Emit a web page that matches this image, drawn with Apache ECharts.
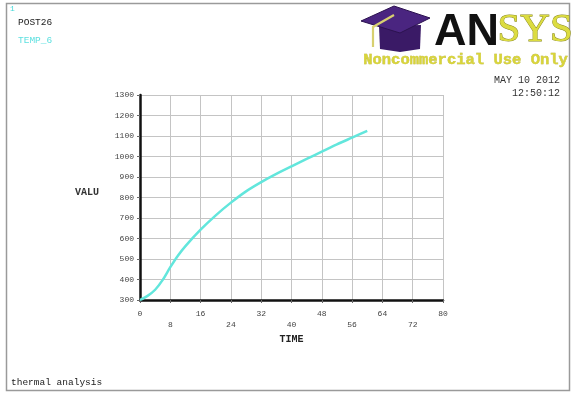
<!DOCTYPE html>
<html>
<head>
<meta charset="utf-8">
<script src="https://cdn.jsdelivr.net/npm/echarts@6/dist/echarts.min.js"></script>
<style>
  html, body { margin: 0; padding: 0; background: #fff; }
  #chart { width: 572px; height: 394px; }
</style>
</head>
<body>
<div id="chart"></div>
<script>
// POST26 time-history: TEMP_6 vs TIME
const timeValues = [0, 2, 4, 6, 8, 10, 12, 16, 20, 24, 28, 32, 36, 40, 44, 48, 52, 56, 60];
const tempValues = [300, 320, 350, 398, 460, 516, 563, 643, 713, 775, 830, 875, 915, 952, 988, 1024, 1059, 1092, 1125];
const xTicks = { min: 0, max: 80, step: 8 };
const yTicks = { min: 300, max: 1300, step: 100 };

const MONO = '"Liberation Mono", "DejaVu Sans Mono", monospace';
const chart = echarts.init(document.getElementById('chart'), null, { renderer: 'canvas' });

const seriesData = timeValues.map((t, i) => [t, tempValues[i]]);

chart.setOption({
  animation: false,
  backgroundColor: '#ffffff',
  grid: { left: 140, right: 129, top: 95, bottom: 94, containLabel: false },
  xAxis: {
    type: 'value',
    min: xTicks.min, max: xTicks.max, interval: xTicks.step,
    name: 'TIME', nameLocation: 'middle', nameGap: 30,
    nameTextStyle: { fontFamily: MONO, fontSize: 10, color: '#222', fontWeight: 'bold' },
    axisLine: { show: true, onZero: false, lineStyle: { color: '#111', width: 2.5 } },
    axisTick: { show: true, length: 3, inside: false, lineStyle: { color: '#666', width: 1 } },
    axisLabel: {
      fontFamily: MONO, fontSize: 8, color: '#444', margin: 8, lineHeight: 11,
      formatter: v => (v % 16 === 0 ? String(v) : '\n' + v)
    },
    splitLine: { show: true, lineStyle: { color: '#c4c4c4', width: 1 } }
  },
  yAxis: {
    type: 'value',
    min: yTicks.min, max: yTicks.max, interval: yTicks.step,
    axisLine: { show: true, onZero: false, lineStyle: { color: '#111', width: 2.5 } },
    axisTick: { show: true, length: 3, lineStyle: { color: '#666', width: 1 } },
    axisLabel: { fontFamily: MONO, fontSize: 8, color: '#444', margin: 6, formatter: v => String(v) },
    splitLine: { show: true, lineStyle: { color: '#c4c4c4', width: 1 } }
  },
  series: [{
    type: 'line',
    data: seriesData,
    smooth: 0.3,
    showSymbol: false,
    lineStyle: { color: '#62e6dc', width: 2.5 },
    z: 5
  }],
  graphic: [
    // outer frame
    { type: 'rect', shape: { x: 6.5, y: 3.5, width: 563, height: 387 },
      style: { fill: 'none', stroke: '#9a9a9a', lineWidth: 1.5 }, silent: true },
    { type: 'text', left: 10, top: 5,
      style: { text: '1', fontFamily: MONO, fontSize: 8, fill: '#40d8d8' } },
    { type: 'text', left: 18, top: 17,
      style: { text: 'POST26', fontFamily: MONO, fontSize: 9.5, fill: '#222' } },
    { type: 'text', left: 18, top: 35,
      style: { text: 'TEMP_6', fontFamily: MONO, fontSize: 9.5, fill: '#5ee0e0' } },
    // logo: mortarboard
    { type: 'polygon', shape: { points: [[379, 26], [421, 25], [420, 49], [400, 52], [380, 49]] },
      style: { fill: '#3a1a66' } },
    { type: 'polygon', shape: { points: [[361, 21], [394, 6], [430, 18], [400, 33]] },
      style: { fill: '#4a2580', stroke: '#2c1250', lineWidth: 1 } },
    { type: 'polyline', shape: { points: [[394, 15], [373, 27], [373, 47]] },
      style: { stroke: '#d8d070', lineWidth: 2.2, fill: 'none' } },
    // logo: lettering
    { type: 'text', left: 434, top: 10,
      style: { text: 'AN', fontFamily: '"Liberation Sans", Arial, sans-serif', fontWeight: 'bold',
               fontSize: 45, fill: '#111' } },
    { type: 'text', left: 497, top: 9,
      style: { text: 'SYS', fontFamily: '"Liberation Serif", serif', fontSize: 41,
               fill: '#dcdc40', stroke: '#8c8c22', lineWidth: 1 } },
    { type: 'text', left: 363, top: 52,
      style: { text: 'Noncommercial Use Only', fontFamily: MONO, fontWeight: 'bold',
               fontSize: 15.5, fill: '#d8d43a', stroke: '#b0aa20', lineWidth: 0.4 } },
    { type: 'text', right: 12, top: 75,
      style: { text: 'MAY 10 2012', fontFamily: MONO, fontSize: 10, fill: '#333', align: 'right' } },
    { type: 'text', right: 12, top: 88,
      style: { text: '12:50:12', fontFamily: MONO, fontSize: 10, fill: '#333', align: 'right' } },
    { type: 'text', left: 75, top: 187,
      style: { text: 'VALU', fontFamily: MONO, fontSize: 10, fontWeight: 'bold', fill: '#333' } },
    { type: 'text', left: 11, top: 377,
      style: { text: 'thermal analysis', fontFamily: MONO, fontSize: 9.5, fill: '#222' } }
  ]
});
</script>
</body>
</html>
